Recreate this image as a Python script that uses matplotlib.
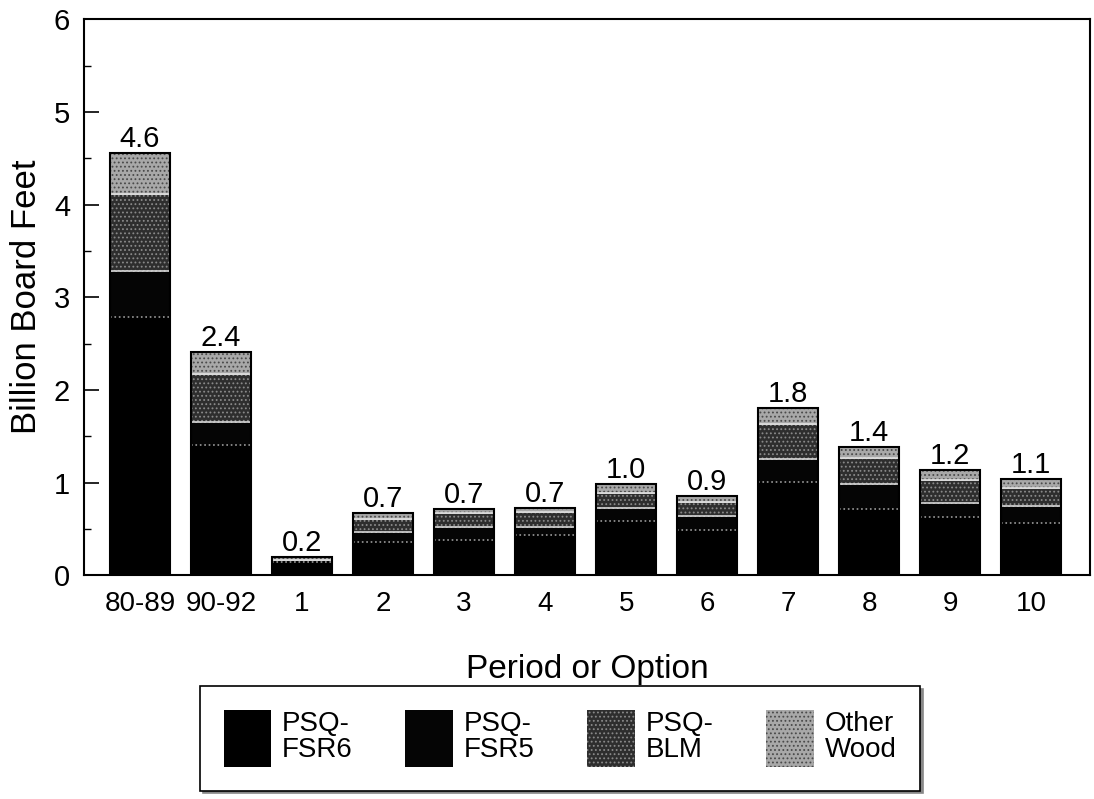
import numpy as np
import matplotlib
matplotlib.use("Agg")
import matplotlib.pyplot as plt
from matplotlib.ticker import MultipleLocator

plt.rcParams['font.family'] = ['Liberation Sans', 'DejaVu Sans']
plt.rcParams['hatch.linewidth'] = 0.8

# data (billion board feet)
categories = ['80-89', '90-92', '1', '2', '3', '4', '5', '6', '7', '8', '9', '10']
fsr6 = [2.79, 1.41, 0.14, 0.36, 0.38, 0.43, 0.59, 0.49, 1.01, 0.72, 0.63, 0.56]
fsr5 = [0.49, 0.24, 0.02, 0.11, 0.14, 0.09, 0.14, 0.15, 0.24, 0.27, 0.15, 0.19]
blm = [0.83, 0.52, 0.00, 0.14, 0.15, 0.16, 0.16, 0.15, 0.38, 0.28, 0.25, 0.19]
other = [0.45, 0.24, 0.04, 0.06, 0.05, 0.05, 0.10, 0.07, 0.18, 0.11, 0.11, 0.10]
total_labels = ['4.6', '2.4', '0.2', '0.7', '0.7', '0.7', '1.0', '0.9', '1.8', '1.4', '1.2', '1.1']

series = [
    ('PSQ-\nFSR6', fsr6, '#000000', None, '#000000', '#000000'),
    ('PSQ-\nFSR5', fsr5, '#050505', None, '#050505', '#9a9a9a'),
    ('PSQ-\nBLM', blm, '#2e2e2e', '....', '#8a8a8a', '#d8d8d8'),
    ('Other\nWood', other, '#a8a8a8', '....', '#4a4a4a', '#e0e0e0'),
]

fig = plt.figure(figsize=(10.94, 7.99), dpi=100)
ax = fig.add_axes([0.0768, 0.280, 0.920, 0.696])

x = np.arange(len(categories))
w = 0.74
bottom = np.zeros(len(categories))
handles = []
for name, vals, face, hatch, hcol, border in series:
    vals = np.array(vals)
    h = ax.bar(x, vals, w, bottom=bottom, color=face, hatch=hatch,
               edgecolor=hcol, linewidth=0, label=name)
    ax.bar(x, vals, w, bottom=bottom, fill=False, edgecolor=border,
           linewidth=1.2, linestyle=':' if name.endswith('FSR5') else '-')
    handles.append(h)
    bottom += vals

ax.bar(x, bottom, w, fill=False, edgecolor='black', linewidth=1.5)

for xi, top, lab in zip(x, bottom, total_labels):
    ax.annotate(lab, (xi, top), xytext=(0, 0), textcoords='offset points',
                ha='center', va='bottom', fontsize=21)

ax.set_xlim(-0.69, 11.73)
ax.set_ylim(0, 6)
ax.set_xticks(x)
ax.set_xticklabels(categories, fontsize=20)
ax.yaxis.set_major_locator(MultipleLocator(1))
ax.yaxis.set_minor_locator(MultipleLocator(0.5))
ax.tick_params(axis='y', which='major', direction='in', length=11, width=1.2,
               labelsize=21, pad=10)
ax.tick_params(axis='y', which='minor', direction='in', length=5, width=1.0)
ax.tick_params(axis='x', length=0, pad=11)
for s in ax.spines.values():
    s.set_linewidth(1.5)

ax.set_ylabel('Billion Board Feet', fontsize=25, labelpad=8)
ax.set_xlabel('Period or Option', fontsize=24, labelpad=27)

leg = fig.legend(handles=handles, loc='center', bbox_to_anchor=(0.512, 0.076),
                 ncol=4, fontsize=20, frameon=True, fancybox=False,
                 shadow={'color': '#888888', 'alpha': 1}, edgecolor='black',
                 handlelength=1.7, handleheight=2.8, handletextpad=0.4,
                 columnspacing=1.9, borderpad=0.85, labelspacing=0.2)
leg.get_frame().set_linewidth(1.2)
for t in leg.get_texts():
    t.set_linespacing(1.0)

fig.savefig('out.png', dpi=100)
